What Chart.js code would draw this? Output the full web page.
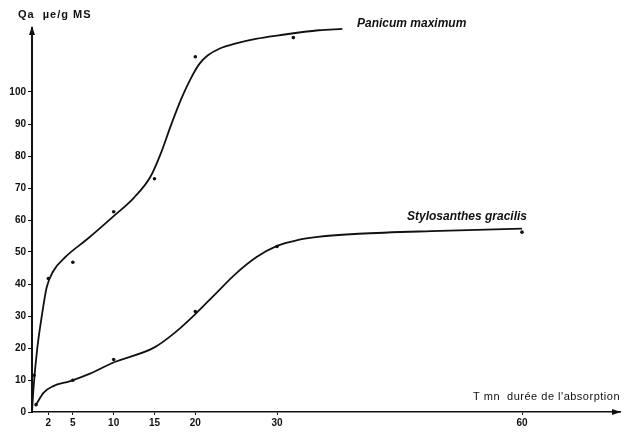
<!DOCTYPE html>
<html>
<head>
<meta charset="utf-8">
<title>Qa absorption</title>
<script src="https://cdn.jsdelivr.net/npm/chart.js@4.4.1/dist/chart.umd.min.js"></script>
<style>
  html, body { margin: 0; padding: 0; background: #fff; }
  #wrap { width: 624px; height: 436px; }
</style>
</head>
<body>
<div id="wrap"><canvas id="chart" width="624" height="436"></canvas></div>
<script>
// axis ticks
const xTicks = [2, 5, 10, 15, 20, 30, 60];
const yTicks = [0, 10, 20, 30, 40, 50, 60, 70, 80, 90, 100];

// measured points (dots)
const panicumDotsX = [0.25, 2, 5, 10, 15, 20, 32];
const panicumDotsY = [11.5, 41.7, 46.8, 62.6, 72.9, 111, 117];
const styloDotsX = [0.5, 5, 10, 20, 30, 60];
const styloDotsY = [2.3, 9.9, 16.4, 31.4, 51.7, 56.2];

// hand-drawn fitted curves
const panicumCurveX = [0, 0.2, 0.65, 1.2, 1.8, 2.6, 4.2, 6.7, 9.9, 12.5, 14.5, 15.8, 17, 18.3, 19.5, 20.5, 21.5, 23, 25, 27.4, 30.2, 35.1, 38];
const panicumCurveY = [0, 8, 20, 30, 39, 44, 48.7, 53.9, 61, 67, 73.5, 81, 89.5, 98, 104.5, 108.8, 111.4, 113.6, 115.2, 116.6, 117.7, 119.3, 119.7];
const styloCurveX = [0.5, 1.4, 2.6, 4.6, 7.1, 9.9, 15, 17.5, 20, 22.5, 25, 27.5, 30, 32.5, 35, 40, 50, 60];
const styloCurveY = [2.3, 6, 8.1, 9.6, 12, 15.4, 20.2, 24.8, 30.6, 37, 43.3, 48.4, 51.9, 53.7, 54.7, 55.7, 56.6, 57.3];

const zip = (xs, ys) => xs.map((x, i) => ({ x: x, y: ys[i] }));

const tickFont = { family: "'Liberation Sans', Arial, sans-serif", size: 10, weight: "bold" };

// arrows, axis titles and curve names
const decorPlugin = {
  id: "decor",
  afterDraw(chart) {
    const ctx = chart.ctx;
    const area = chart.chartArea;
    ctx.save();
    ctx.fillStyle = "#111";

    // arrow at top of y axis
    ctx.beginPath();
    ctx.moveTo(area.left, area.top - 2);
    ctx.lineTo(area.left - 3, area.top + 7);
    ctx.lineTo(area.left + 3, area.top + 7);
    ctx.closePath();
    ctx.fill();

    // arrow at end of x axis
    ctx.beginPath();
    ctx.moveTo(area.right + 1, area.bottom);
    ctx.lineTo(area.right - 8, area.bottom - 3);
    ctx.lineTo(area.right - 8, area.bottom + 3);
    ctx.closePath();
    ctx.fill();

    ctx.textBaseline = "middle";
    ctx.font = "bold 11px 'Liberation Sans', Arial, sans-serif";
    ctx.letterSpacing = "1px";
    ctx.textAlign = "left";
    ctx.fillText("Qa  \u00b5e/g MS", 18, 15);

    ctx.font = "11px 'Liberation Sans', Arial, sans-serif";
    ctx.letterSpacing = "0.5px";
    ctx.textAlign = "right";
    ctx.fillText("T mn  durée de l'absorption", area.right, 397);

    ctx.letterSpacing = "0px";
    ctx.font = "italic bold 12px 'Liberation Sans', Arial, sans-serif";
    ctx.textAlign = "left";
    ctx.fillText("Panicum maximum", 357, 24);
    ctx.fillText("Stylosanthes gracilis", 407, 217);
    ctx.restore();
  },
};

new Chart(document.getElementById("chart").getContext("2d"), {
  type: "scatter",
  data: {
    datasets: [
      {
        type: "line",
        label: "Panicum maximum",
        data: zip(panicumCurveX, panicumCurveY),
        borderColor: "#111",
        borderWidth: 1.8,
        pointRadius: 0,
        cubicInterpolationMode: "monotone",
        fill: false,
      },
      {
        type: "line",
        label: "Stylosanthes gracilis",
        data: zip(styloCurveX, styloCurveY),
        borderColor: "#111",
        borderWidth: 1.8,
        pointRadius: 0,
        cubicInterpolationMode: "monotone",
        fill: false,
      },
      {
        label: "Panicum points",
        data: zip(panicumDotsX, panicumDotsY),
        backgroundColor: "#111",
        borderWidth: 0,
        pointRadius: 1.8,
      },
      {
        label: "Stylosanthes points",
        data: zip(styloDotsX, styloDotsY),
        backgroundColor: "#111",
        borderWidth: 0,
        pointRadius: 1.8,
      },
    ],
  },
  options: {
    responsive: false,
    animation: false,
    layout: { padding: { top: 28, right: 2, left: 0, bottom: 0 } },
    plugins: {
      legend: { display: false },
      tooltip: { enabled: false },
    },
    scales: {
      x: {
        type: "linear",
        min: 0,
        max: 72,
        afterBuildTicks: (scale) => { scale.ticks = xTicks.map((v) => ({ value: v })); },
        afterFit: (scale) => { scale.height = 24; },
        ticks: { autoSkip: false, maxRotation: 0, color: "#111", font: tickFont, padding: 2 },
        grid: { drawOnChartArea: false, tickLength: 3, color: "#111" },
        border: { color: "#111", width: 1.5 },
      },
      y: {
        type: "linear",
        min: 0,
        max: 120,
        afterBuildTicks: (scale) => { scale.ticks = yTicks.map((v) => ({ value: v })); },
        afterFit: (scale) => { scale.width = 32; },
        ticks: { color: "#111", font: tickFont, padding: 2 },
        grid: { drawOnChartArea: false, tickLength: 4, color: "#111" },
        border: { color: "#111", width: 2 },
      },
    },
  },
  plugins: [decorPlugin],
});
</script>
</body>
</html>
